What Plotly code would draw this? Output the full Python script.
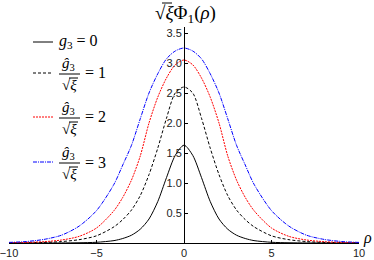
import plotly.graph_objects as go

rho = [-10, -9, -8, -7, -6, -5, -4, -3.5, -3, -2.5, -2, -1.5, -1, -0.5, 0,
       0.5, 1, 1.5, 2, 2.5, 3, 3.5, 4, 5, 6, 7, 8, 9, 10]

phi_g0 = [0.0, 0.0, 0.0005, 0.001, 0.004, 0.012, 0.04, 0.075, 0.13, 0.23, 0.40, 0.69, 1.09, 1.46, 1.63,
          1.46, 1.09, 0.69, 0.40, 0.23, 0.13, 0.075, 0.04, 0.012, 0.004, 0.001, 0.0005, 0.0, 0.0]
phi_g1 = [0.002, 0.004, 0.01, 0.024, 0.055, 0.12, 0.27, 0.39, 0.55, 0.79, 1.14, 1.58, 2.08, 2.5, 2.6,
          2.5, 2.08, 1.58, 1.14, 0.79, 0.55, 0.39, 0.27, 0.12, 0.055, 0.024, 0.01, 0.004, 0.002]
phi_g2 = [0.004, 0.01, 0.022, 0.05, 0.11, 0.25, 0.54, 0.76, 1.05, 1.45, 2.0, 2.43, 2.75, 2.97, 3.05,
          2.97, 2.75, 2.43, 2.0, 1.45, 1.05, 0.76, 0.54, 0.25, 0.11, 0.05, 0.022, 0.01, 0.004]
phi_g3 = [0.01, 0.025, 0.06, 0.13, 0.28, 0.54, 0.98, 1.3, 1.63, 2.07, 2.5, 2.82, 3.07, 3.2, 3.25,
          3.2, 3.07, 2.82, 2.5, 2.07, 1.63, 1.3, 0.98, 0.54, 0.28, 0.13, 0.06, 0.025, 0.01]

x_ticks = [-10, -5, 0, 5, 10]
x_tick_text = ["−10", "−5", "0", "5", "10"]
y_ticks = [0.5, 1.0, 1.5, 2.0, 2.5, 3.0, 3.5]
legend_values = ["0", "1", "2", "3"]

series = [
    (phi_g0, "g3 = 0", "black", "solid"),
    (phi_g1, "ĝ3/√ξ = 1", "black", "3px,2px"),
    (phi_g2, "ĝ3/√ξ = 2", "red", "2px,1px"),
    (phi_g3, "ĝ3/√ξ = 3", "blue", "4px,1px,1px,1px"),
]

W, H = 374, 260
L, R, T, B = 9, 15, 27, 17
PW, PH = W - L - R, H - T - B

def px(x):
    return (x - L) / PW

def py(y):
    return (H - B - y) / PH

fig = go.Figure()
for ys, name, color, dash in series:
    fig.add_trace(go.Scatter(x=rho, y=ys, mode="lines", name=name, showlegend=False,
                             line=dict(color=color, width=1, dash=dash, shape="spline", smoothing=0.8)))

serif = "Liberation Serif"
annotations = []
shapes = []

# y-axis label
annotations.append(dict(xref="paper", yref="paper", x=px(153), y=py(14), xanchor="left", yanchor="middle",
                        text="√<i>ξ</i>Φ<sub>1</sub>(<i>ρ</i>)", showarrow=False,
                        font=dict(family=serif, size=19, color="black")))
shapes.append(dict(type="line", xref="paper", yref="paper", x0=px(162), x1=px(172), y0=py(3), y1=py(3),
                   line=dict(color="black", width=1)))
# x-axis label
annotations.append(dict(xref="paper", yref="paper", x=px(361), y=py(238), xanchor="left", yanchor="middle",
                        text="<i>ρ</i>", showarrow=False, font=dict(family=serif, size=16, color="black")))

# legend
legend_y = [42, 73, 117, 162]
for i, (ys, name, color, dash) in enumerate(series):
    yy = legend_y[i]
    shapes.append(dict(type="line", xref="paper", yref="paper", x0=px(33), x1=px(53), y0=py(yy), y1=py(yy),
                       line=dict(color=color, width=1, dash=dash)))
    if i == 0:
        annotations.append(dict(xref="paper", yref="paper", x=px(57), y=py(yy), xanchor="left", yanchor="middle",
                                text="<i>g</i><sub>3</sub> = " + legend_values[i], showarrow=False,
                                font=dict(family=serif, size=16, color="black")))
    else:
        annotations.append(dict(xref="paper", yref="paper", x=px(68), y=py(yy - 9), xanchor="center", yanchor="middle",
                                text="<i>ĝ</i><sub>3</sub>", showarrow=False,
                                font=dict(family=serif, size=15, color="black")))
        shapes.append(dict(type="line", xref="paper", yref="paper", x0=px(59), x1=px(80), y0=py(yy + 1), y1=py(yy + 1),
                           line=dict(color="black", width=1)))
        annotations.append(dict(xref="paper", yref="paper", x=px(69), y=py(yy + 12), xanchor="center", yanchor="middle",
                                text="√<i>ξ</i>", showarrow=False,
                                font=dict(family=serif, size=15, color="black")))
        shapes.append(dict(type="line", xref="paper", yref="paper", x0=px(69), x1=px(78), y0=py(yy + 5), y1=py(yy + 5),
                           line=dict(color="black", width=1)))
        annotations.append(dict(xref="paper", yref="paper", x=px(83), y=py(yy), xanchor="left", yanchor="middle",
                                text="= " + legend_values[i], showarrow=False,
                                font=dict(family=serif, size=16, color="black")))

fig.update_layout(
    width=W, height=H,
    margin=dict(l=L, r=R, t=T, b=B, autoexpand=False),
    plot_bgcolor="white", paper_bgcolor="white",
    showlegend=False,
    annotations=annotations, shapes=shapes,
    xaxis=dict(range=[-10, 10], tickvals=x_ticks, ticktext=x_tick_text, automargin=False,
               ticklabeloverflow="allow",
               showgrid=False, zeroline=False, showline=True, linecolor="black", linewidth=1,
               ticks="inside", ticklen=3, tickcolor="black",
               tickfont=dict(family="Liberation Sans", size=11, color="#222")),
    yaxis=dict(range=[0, 3.6], tickvals=y_ticks, tickformat=".1f", anchor="free", position=0.5,
               automargin=False, ticklabeloverflow="allow",
               showgrid=False, zeroline=False, showline=True, linecolor="black", linewidth=1,
               ticks="inside", ticklen=3, tickcolor="black",
               tickfont=dict(family="Liberation Sans", size=11, color="#222")),
)

fig.write_html("out.html", config={"displayModeBar": False},
               post_script="document.body.style.margin='0';document.body.style.overflow='hidden';")
